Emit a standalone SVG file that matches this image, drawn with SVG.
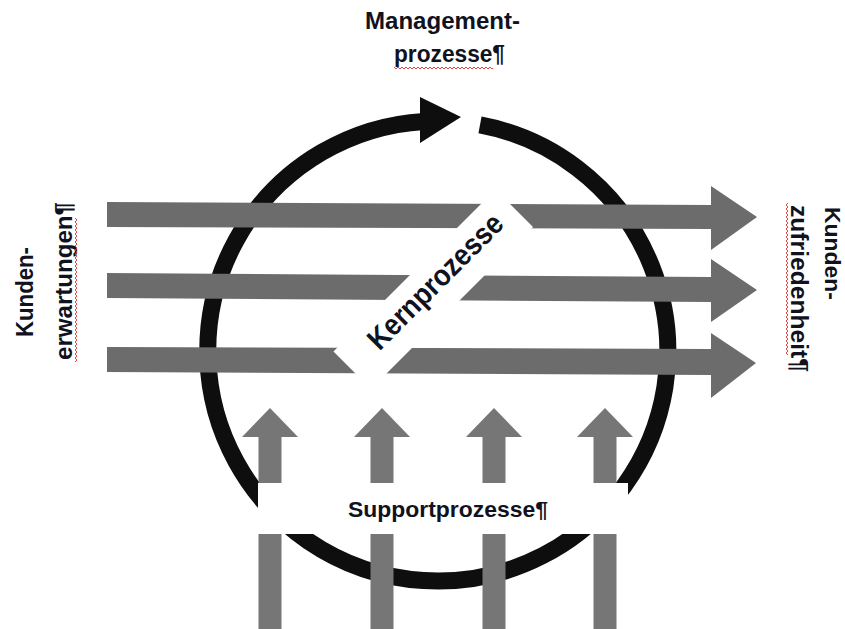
<svg xmlns="http://www.w3.org/2000/svg" width="845" height="629" viewBox="0 0 845 629">
<defs>
<style>
.lbl{font-family:"Liberation Sans",Arial,sans-serif;font-weight:bold;fill:#10121e;}
.bar{fill:#6c6c6c;}
.sup{fill:#767676;}
.ring{fill:none;stroke:#0e0e0e;stroke-width:17;}
</style>
<pattern id="sq" width="4" height="4" patternUnits="userSpaceOnUse">
<path d="M0 1 L2 3 L4 1" fill="none" stroke="#e62a2a" stroke-width="0.9"/>
</pattern>
</defs>
<rect width="845" height="629" fill="#ffffff"/>
<g id="connectors">
<path class="ring" d="M480 124.9 A230 230 0 1 1 424 121.4"/>
<polygon fill="#0e0e0e" points="420,97 461,117 420,143"/>
<polygon class="bar" points="107,202 711,205 711,186 757,217 711,250 711,229 107,227"/>
<polygon class="bar" points="107,273 711,277 711,259 757,290 711,322 711,302 107,298"/>
<polygon class="bar" points="107,347 711,349 711,333 756,363 711,398 711,375 107,372"/>
<polygon class="sup" points="242,437 270,408 298,437 281.5,437 281.5,629 258.5,629 258.5,437"/>
<polygon class="sup" points="354,437 382,408 410,437 393.5,437 393.5,629 370.5,629 370.5,437"/>
<polygon class="sup" points="466,437 494,408 522,437 505.5,437 505.5,629 482.5,629 482.5,437"/>
<polygon class="sup" points="577,437 605,408 633,437 616.5,437 616.5,629 593.5,629 593.5,437"/>
</g>
<g id="kernprozesse">
<polygon fill="#ffffff" points="495.5,189.5 533,227 371,389 333.5,351.5"/>
<text class="lbl" transform="translate(442.5,288.5) rotate(-45)" text-anchor="middle" font-size="30" textLength="178" lengthAdjust="spacingAndGlyphs">Kernprozesse</text>
</g>
<g id="supportprozesse">
<rect x="258" y="483" width="370" height="51" fill="#ffffff"/>
<text class="lbl" x="348" y="517" font-size="22" textLength="200" lengthAdjust="spacingAndGlyphs">Supportprozesse¶</text>
</g>
<g id="management">
<text class="lbl" x="365" y="29" font-size="23" textLength="155" lengthAdjust="spacingAndGlyphs">Management-</text>
<text class="lbl" x="394" y="62" font-size="23" textLength="111" lengthAdjust="spacingAndGlyphs">prozesse¶</text>
<g transform="translate(394,66)"><rect width="99" height="4" fill="url(#sq)"/></g>
</g>
<g id="kundenerwartungen">
<text class="lbl" transform="translate(33,337) rotate(-90)" font-size="23" textLength="90" lengthAdjust="spacingAndGlyphs">Kunden-</text>
<text class="lbl" transform="translate(72,360) rotate(-90)" font-size="23" textLength="158" lengthAdjust="spacingAndGlyphs">erwartungen¶</text>
<g transform="translate(74,362) rotate(-90)"><rect width="144" height="4" fill="url(#sq)"/></g>
</g>
<g id="kundenzufriedenheit">
<text class="lbl" transform="translate(825,207) rotate(90)" font-size="22" textLength="93" lengthAdjust="spacingAndGlyphs">Kunden-</text>
<text class="lbl" transform="translate(791,205) rotate(90)" font-size="23" textLength="167" lengthAdjust="spacingAndGlyphs">zufriedenheit¶</text>
<g transform="translate(789,203) rotate(90)"><rect width="152" height="4" fill="url(#sq)"/></g>
</g>
</svg>
